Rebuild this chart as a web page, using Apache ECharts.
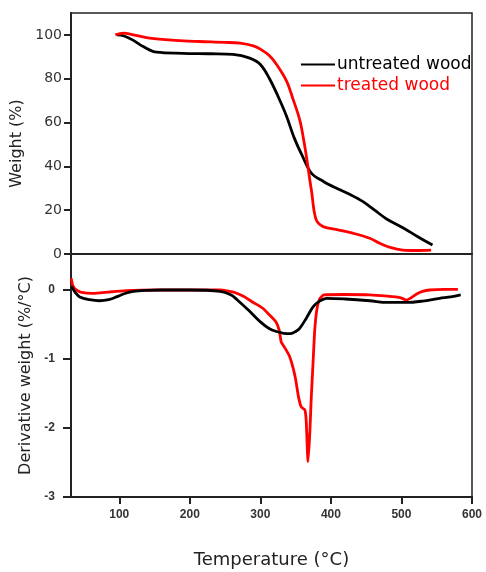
<!DOCTYPE html>
<html>
<head>
<meta charset="utf-8">
<script src="https://cdn.jsdelivr.net/npm/echarts@6/dist/echarts.min.js"></script>
<style>html,body{margin:0;padding:0;background:#fff}#c{width:486px;height:572px}</style>
</head>
<body>
<div id="c"></div>
<script>
// Temperature (°C) / weight (%) for TG curves
const tgUntreatedT = [96.7,106,120,134,153,190,230,261,285,300,313,325,337,348,360,372.6,390,408,428,445,462,479,502,525,544];
const tgUntreatedW = [100,99.6,97.5,94.7,92.1,91.6,91.4,91.1,89.4,86.5,80,72,63,53,44.4,36.8,33,30,27,24,20,16,12,7.5,4.1];
const tgTreatedT = [94.5,106,120,143,180,214,250,271,290,300,313,323,337,346,356,362,366,370,373,376,380,389,410,431,455,470,484,502,520,542];
const tgTreatedW = [100,100.8,100,98.5,97.5,97,96.6,96.2,95,93.5,90.5,86.5,79,71,61,51,43,34,27.7,20,15,12.5,11,9.5,7.2,4.8,3,1.8,1.6,1.8];
// Derivative weight (%/°C)
const dtgUntreatedT = [32.6,38,44,58,72,85,96,108,120,140,160,200,243,258,267,283,300,313,323,333,343,350,356,365,375,384,394,420,455,480,507,530,554,570,584];
const dtgUntreatedD = [0.04,-0.05,-0.11,-0.15,-0.165,-0.15,-0.11,-0.06,-0.03,-0.015,-0.01,-0.01,-0.03,-0.08,-0.15,-0.3,-0.47,-0.57,-0.61,-0.635,-0.64,-0.61,-0.56,-0.42,-0.25,-0.17,-0.13,-0.14,-0.165,-0.19,-0.19,-0.17,-0.13,-0.11,-0.08];
const dtgTreatedT = [31.8,34,38,45,63,85,110,150,243,262,276,290,303,313,322,327,329.5,335,341,346,350,354,358,363,365,367.5,370,372,375,377,380,384,390,420,455,480,498,507,514,521,530,540,560,580];
const dtgTreatedD = [0.16,0.06,0,-0.04,-0.06,-0.04,-0.02,-0.01,-0.01,-0.04,-0.1,-0.19,-0.27,-0.37,-0.47,-0.6,-0.76,-0.85,-0.96,-1.12,-1.3,-1.55,-1.7,-1.74,-1.9,-2.49,-2.1,-1.6,-1.0,-0.6,-0.3,-0.14,-0.08,-0.075,-0.08,-0.1,-0.12,-0.155,-0.12,-0.07,-0.03,-0.01,0,0];
const xTicks = [100,200,300,400,500,600];
const tgTicks = [0,20,40,60,80,100];
const dtgTicks = [-3,-2,-1,0];
const seriesNames = ['untreated wood','treated wood'];

const zip = (a,b) => a.map((v,i)=>[v,b[i]]);
const axisCol = '#222';
const chart = echarts.init(document.getElementById('c'));
chart.setOption({
  animation:false,
  backgroundColor:'#fff',
  grid:[
    {left:71,top:13,width:401,height:241,show:true,borderColor:axisCol,borderWidth:1.5,backgroundColor:'transparent'},
    {left:71,top:254,width:401,height:243,show:true,borderColor:axisCol,borderWidth:1.5,backgroundColor:'transparent'}
  ],
  legend:{
    left:296, top:51, orient:'vertical', itemGap:4, itemWidth:34, itemHeight:16,
    icon:'path://M0,7 L34,7 L34,9 L0,9 Z',
    textStyle:{fontFamily:'DejaVu Sans',fontSize:17,padding:[0,0,0,-3]},
    data:[
      {name:seriesNames[0],textStyle:{color:'#000'},itemStyle:{color:'#000'}},
      {name:seriesNames[1],textStyle:{color:'#ff0000'},itemStyle:{color:'#ff0000'}}
    ]
  },
  xAxis:[
    {type:'value',gridIndex:0,min:31.6,max:600,axisLine:{show:true,onZero:false,lineStyle:{color:axisCol,width:1.5}},axisTick:{show:false},axisLabel:{show:false},splitLine:{show:false}},
    {type:'value',gridIndex:1,min:31.6,max:600,
     axisLine:{show:true,onZero:false,lineStyle:{color:axisCol,width:2}},
     axisTick:{show:true,length:7,lineStyle:{color:axisCol,width:2},customValues:xTicks},
     axisLabel:{customValues:xTicks,fontFamily:'Liberation Sans',fontWeight:'bold',fontSize:12,color:'#333',margin:12},
     splitLine:{show:false},
     name:'Temperature (°C)',nameLocation:'middle',nameGap:54,
     nameTextStyle:{fontFamily:'DejaVu Sans',fontSize:18,color:'#222'}}
  ],
  yAxis:[
    {type:'value',gridIndex:0,min:0,max:110,
     axisLine:{show:true,lineStyle:{color:axisCol,width:2}},
     axisTick:{show:true,length:7,lineStyle:{color:axisCol,width:2},customValues:tgTicks},
     axisLabel:{customValues:tgTicks,fontFamily:'DejaVu Sans',fontSize:14,color:'#333',margin:9},
     splitLine:{show:false},
     name:'Weight (%)',nameLocation:'middle',nameGap:42,nameRotate:90,
     nameTextStyle:{fontFamily:'DejaVu Sans',fontSize:16,color:'#222',padding:[0,0,0,-20]}},
    {type:'value',gridIndex:1,min:-3,max:0.51,
     axisLine:{show:true,lineStyle:{color:axisCol,width:2}},
     axisTick:{show:true,length:8,lineStyle:{color:axisCol,width:2},customValues:dtgTicks},
     axisLabel:{customValues:dtgTicks,fontFamily:'Liberation Sans',fontWeight:'bold',fontSize:12,color:'#333',margin:16},
     splitLine:{show:false},
     name:'Derivative weight (%/°C)',nameLocation:'middle',nameGap:29,nameRotate:90,
     nameTextStyle:{fontFamily:'DejaVu Sans',fontSize:16,color:'#222'}}
  ],
  series:[
    {name:seriesNames[0],type:'line',xAxisIndex:0,yAxisIndex:0,data:zip(tgUntreatedT,tgUntreatedW),smooth:0.35,showSymbol:false,lineStyle:{color:'#000',width:2.8},itemStyle:{color:'#000'}},
    {name:seriesNames[1],type:'line',xAxisIndex:0,yAxisIndex:0,data:zip(tgTreatedT,tgTreatedW),smooth:0.35,showSymbol:false,lineStyle:{color:'#ff0000',width:2.8},itemStyle:{color:'#ff0000'}},
    {name:seriesNames[0],type:'line',xAxisIndex:1,yAxisIndex:1,data:zip(dtgUntreatedT,dtgUntreatedD),smooth:0.35,showSymbol:false,lineStyle:{color:'#000',width:2.8},itemStyle:{color:'#000'},z:3},
    {name:seriesNames[1],type:'line',xAxisIndex:1,yAxisIndex:1,data:zip(dtgTreatedT,dtgTreatedD),smooth:0.15,showSymbol:false,lineStyle:{color:'#ff0000',width:2.8},itemStyle:{color:'#ff0000'},z:2}
  ]
});
</script>
</body>
</html>
